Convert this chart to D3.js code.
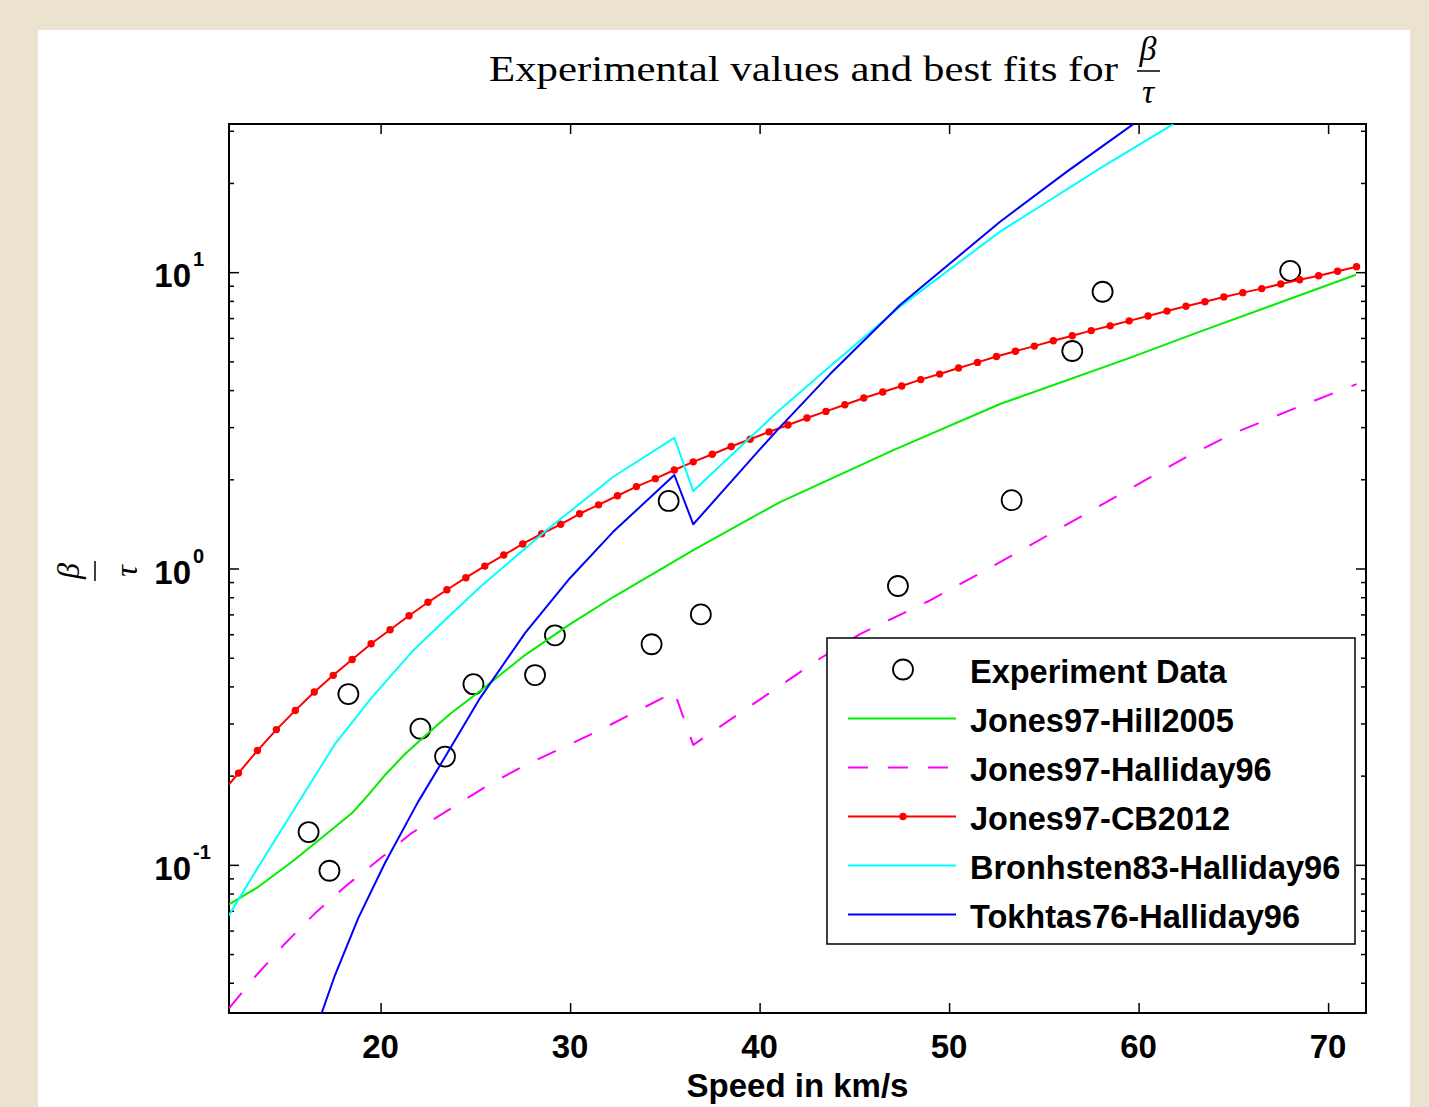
<!DOCTYPE html>
<html>
<head>
<meta charset="utf-8">
<script src="https://cdn.jsdelivr.net/npm/d3@7"></script>
<style>
html, body { margin: 0; padding: 0; background: #ebe3d0; }
svg { display: block; }
.axis .domain { display: none; }
.axis .tick line { stroke: #000; stroke-width: 1.5; }
.lab { font-family: "Liberation Sans", Arial, sans-serif; font-weight: bold; fill: #000; }
.math { font-family: "Liberation Serif", "DejaVu Serif", serif; fill: #000; }
</style>
</head>
<body>
<div id="chart"></div>
<script>
const W = 1429, H = 1107;
const plot = {left: 229, top: 124, right: 1366, bottom: 1013};

// experiment points
const expSpeed = [16.2, 17.3, 18.3, 22.1, 23.4, 24.9, 28.15, 29.2, 34.3, 35.2, 36.9, 47.3, 53.3, 56.5, 58.1, 68.0];
const expValue = [0.129, 0.0955, 0.377, 0.288, 0.232, 0.407, 0.437, 0.595, 0.555, 1.69, 0.70, 0.873, 1.70, 5.42, 8.59, 10.1];

// Jones97-Hill2005
const hillSpeed = [12, 13.55, 15.31, 17.07, 18.48, 19.34, 20.23, 21.29, 22.34, 23.66, 25.25, 27.62, 30.0,
  32.28, 36.5, 41.08, 47.06, 52.69, 59.46, 63.24, 71.47];
const hillValue = [0.0735, 0.0843, 0.1022, 0.126, 0.1492, 0.1719, 0.2009, 0.2365, 0.272, 0.3227, 0.3858, 0.5104, 0.6494,
  0.8012, 1.154, 1.676, 2.51, 3.59, 5.12, 6.30, 9.80];

// Jones97-Halliday96
const hallSpeed = [12, 13.37, 14.96, 16.54, 18.12, 20.06, 21.64, 23.57, 25.51, 27.45, 31.58, 35.5, 36.5, 43.19, 45.3, 48.99, 52.69, 62.52, 65.02, 68.04, 71.5];
const hallValue = [0.0328, 0.0419, 0.0543, 0.0686, 0.0844, 0.106, 0.128, 0.153, 0.183, 0.214, 0.285, 0.383, 0.254, 0.497, 0.601, 0.78, 1.05, 2.38, 2.86, 3.43, 4.19];

// Jones97-CB2012 (one marker per point)
const cbSpeed = [11.5, 12.5, 13.5, 14.5, 15.5, 16.5, 17.5, 18.5, 19.5, 20.5, 21.5, 22.5, 23.5, 24.5, 25.5,
  26.5, 27.5, 28.5, 29.5, 30.5, 31.5, 32.5, 33.5, 34.5, 35.5, 36.5, 37.5, 38.5, 39.5, 40.5, 41.5, 42.5,
  43.5, 44.5, 45.5, 46.5, 47.5, 48.5, 49.5, 50.5, 51.5, 52.5, 53.5, 54.5, 55.5, 56.5, 57.5, 58.5, 59.5,
  60.5, 61.5, 62.5, 63.5, 64.5, 65.5, 66.5, 67.5, 68.5, 69.5, 70.5, 71.5];
const cbValue = [0.171, 0.204, 0.243, 0.286, 0.332, 0.383, 0.436, 0.493, 0.557, 0.621, 0.693, 0.769, 0.848, 0.931, 1.019,
  1.11, 1.21, 1.31, 1.41, 1.53, 1.64, 1.76, 1.89, 2.01, 2.15, 2.29, 2.43, 2.58, 2.73, 2.89, 3.05, 3.22,
  3.39, 3.57, 3.76, 3.94, 4.13, 4.34, 4.53, 4.75, 4.96, 5.19, 5.41, 5.63, 5.87, 6.10, 6.35, 6.59, 6.85,
  7.11, 7.39, 7.67, 7.95, 8.25, 8.53, 8.80, 9.12, 9.43, 9.72, 10.07, 10.43];

// Bronhsten83-Halliday96
const bronSpeed = [12, 13.55, 15.31, 17.59, 19.55, 21.64, 23.4, 25.25, 28.77, 32.28, 35.5, 36.5, 41.08, 43.89, 47.41, 52.69, 57.96, 61.83];
const bronValue = [0.0676, 0.0985, 0.1492, 0.2556, 0.3683, 0.5224, 0.670, 0.866, 1.348, 2.04, 2.76, 1.825, 3.44, 4.92, 7.65, 13.7, 22.4, 31.6];

// Tokhtas76-Halliday96
const tokSpeed = [16.89, 17.59, 18.82, 20.23, 21.97, 23.4, 25.25, 27.62, 30.0, 32.26, 35.5, 36.5, 39.93, 41.08, 43.72, 47.41, 52.69, 56.2, 59.72];
const tokValue = [0.0316, 0.0424, 0.0661, 0.1014, 0.1628, 0.231, 0.3654, 0.6054, 0.929, 1.327, 2.068, 1.41, 2.49, 3.00, 4.53, 7.75, 14.8, 21.8, 31.6];

const xTicks = [20, 30, 40, 50, 60, 70];
const yDecades = [0.1, 1, 10];
const yDecadeExp = ["-1", "0", "1"];
const legendNames = ["Experiment Data", "Jones97-Hill2005", "Jones97-Halliday96", "Jones97-CB2012",
  "Bronhsten83-Halliday96", "Tokhtas76-Halliday96"];

var svg, x, y;

var init = function() {
    svg = d3.select("#chart").append("svg")
        .attr("width", W)
        .attr("height", H);

    svg.append("rect").attr("width", W).attr("height", H).attr("fill", "#ebe3d0");
    svg.append("rect").attr("x", 38).attr("y", 30)
        .attr("width", 1372).attr("height", H - 30).attr("fill", "#fff");

    x = d3.scaleLinear().domain([12, 72]).range([plot.left, plot.right]);
    y = d3.scaleLog().domain([Math.pow(10, -1.5), Math.pow(10, 1.5)]).range([plot.bottom, plot.top]);

    svg.append("clipPath").attr("id", "clip")
        .append("rect")
        .attr("x", plot.left).attr("y", plot.top)
        .attr("width", plot.right - plot.left).attr("height", plot.bottom - plot.top);

    drawAxes();
    drawSeries();
    drawLegend();
    drawTitles();
};

var drawAxes = function() {
    var minors = y.ticks().filter(v => yDecades.indexOf(v) < 0);
    var pw = plot.right - plot.left;

    // ticks point inward on all four sides
    svg.append("g").attr("class", "axis")
        .attr("transform", `translate(0,${plot.bottom})`)
        .call(d3.axisBottom(x).tickValues(xTicks).tickSize(-10).tickSizeOuter(0).tickFormat(""));
    svg.append("g").attr("class", "axis")
        .attr("transform", `translate(0,${plot.top})`)
        .call(d3.axisTop(x).tickValues(xTicks).tickSize(-10).tickSizeOuter(0).tickFormat(""));
    svg.append("g").attr("class", "axis")
        .attr("transform", `translate(${plot.left},0)`)
        .call(d3.axisLeft(y).tickValues(yDecades).tickSize(-10).tickSizeOuter(0).tickFormat(""));
    svg.append("g").attr("class", "axis")
        .attr("transform", `translate(${plot.left},0)`)
        .call(d3.axisLeft(y).tickValues(minors).tickSize(-5).tickSizeOuter(0).tickFormat(""));
    svg.append("g").attr("class", "axis")
        .attr("transform", `translate(${plot.right},0)`)
        .call(d3.axisRight(y).tickValues(yDecades).tickSize(-10).tickSizeOuter(0).tickFormat(""));
    svg.append("g").attr("class", "axis")
        .attr("transform", `translate(${plot.right},0)`)
        .call(d3.axisRight(y).tickValues(minors).tickSize(-5).tickSizeOuter(0).tickFormat(""));

    svg.append("rect")
        .attr("x", plot.left).attr("y", plot.top)
        .attr("width", pw).attr("height", plot.bottom - plot.top)
        .attr("fill", "none").attr("stroke", "#000").attr("stroke-width", 2);

    svg.selectAll(".xlab").data(xTicks)
        .enter().append("text")
        .attr("class", "lab xlab")
        .attr("x", d => x(d)).attr("y", plot.bottom + 45)
        .attr("text-anchor", "middle")
        .attr("font-size", 33)
        .text(d => d);

    var yl = svg.selectAll(".ylab").data(yDecades)
        .enter().append("g").attr("class", "ylab");
    yl.append("text")
        .attr("class", "lab")
        .attr("x", 191).attr("y", d => y(d) + 15)
        .attr("text-anchor", "end")
        .attr("font-size", 33)
        .text("10");
    yl.append("text")
        .attr("class", "lab")
        .attr("x", 193).attr("y", d => y(d) - 6)
        .attr("font-size", 20)
        .text((d, i) => yDecadeExp[i]);
};

var drawSeries = function() {
    var line = d3.line()
        .x(d => x(d[0]))
        .y(d => y(d[1]));
    var g = svg.append("g").attr("clip-path", "url(#clip)");

    g.selectAll(".exp").data(d3.zip(expSpeed, expValue))
        .enter().append("circle")
        .attr("cx", d => x(d[0])).attr("cy", d => y(d[1]))
        .attr("r", 10)
        .attr("fill", "none").attr("stroke", "#000").attr("stroke-width", 1.8);

    var curves = [
        [hillSpeed, hillValue, "#00ee00", null],
        [hallSpeed, hallValue, "#ff00ff", "20,20"],
        [cbSpeed, cbValue, "#ff0000", null],
        [bronSpeed, bronValue, "#00ffff", null],
        [tokSpeed, tokValue, "#0000ff", null]
    ];
    curves.forEach(function(c) {
        g.append("path")
            .attr("d", line(d3.zip(c[0], c[1])))
            .attr("fill", "none")
            .attr("stroke", c[2])
            .attr("stroke-width", 2)
            .attr("stroke-linejoin", "round")
            .attr("stroke-dasharray", c[3]);
        if (c[0] === cbSpeed) {
            g.selectAll(".cbdot").data(d3.zip(cbSpeed, cbValue))
                .enter().append("circle")
                .attr("cx", d => x(d[0])).attr("cy", d => y(d[1]))
                .attr("r", 3.7).attr("fill", "#ff0000");
        }
    });
};

var drawLegend = function() {
    var lx = 827, ly = 638, lw = 528, lh = 306;
    var row = i => 669.5 + i * 49;
    var lg = svg.append("g");
    lg.append("rect")
        .attr("x", lx).attr("y", ly).attr("width", lw).attr("height", lh)
        .attr("fill", "#fff").attr("stroke", "#000").attr("stroke-width", 1.5);

    var styles = [
        ["#000", null], ["#00ee00", null], ["#ff00ff", "20,20"], ["#ff0000", null], ["#00ffff", null], ["#0000ff", null]
    ];
    legendNames.forEach(function(name, i) {
        if (i === 0) {
            lg.append("circle").attr("cx", 903).attr("cy", row(i)).attr("r", 10)
                .attr("fill", "none").attr("stroke", "#000").attr("stroke-width", 1.8);
        } else {
            lg.append("line")
                .attr("x1", 848).attr("x2", 956)
                .attr("y1", row(i)).attr("y2", row(i))
                .attr("stroke", styles[i][0]).attr("stroke-width", 2)
                .attr("stroke-dasharray", styles[i][1]);
            if (i === 3) {
                lg.append("circle").attr("cx", 903).attr("cy", row(i)).attr("r", 3.7).attr("fill", "#ff0000");
            }
        }
        lg.append("text")
            .attr("class", "lab")
            .attr("x", 970).attr("y", row(i) + 13)
            .attr("font-size", 32.5)
            .text(name);
    });
};

var drawTitles = function() {
    svg.append("text")
        .attr("class", "math")
        .attr("x", 489).attr("y", 81)
        .attr("font-size", 35)
        .attr("textLength", 629).attr("lengthAdjust", "spacingAndGlyphs")
        .text("Experimental values and best fits for");
    svg.append("text").attr("class", "math")
        .attr("x", 1148).attr("y", 60).attr("text-anchor", "middle")
        .attr("font-size", 34).attr("font-style", "italic").text("β");
    svg.append("line").attr("x1", 1137).attr("x2", 1160).attr("y1", 71).attr("y2", 71)
        .attr("stroke", "#000").attr("stroke-width", 1.5);
    svg.append("text").attr("class", "math")
        .attr("x", 1148).attr("y", 103).attr("text-anchor", "middle")
        .attr("font-size", 34).attr("font-style", "italic").text("τ");

    svg.append("text")
        .attr("class", "lab")
        .attr("x", (plot.left + plot.right) / 2).attr("y", 1097)
        .attr("text-anchor", "middle")
        .attr("font-size", 33)
        .text("Speed in km/s");

    var yl = svg.append("g").attr("transform", "translate(95,571) rotate(-90)");
    yl.append("text").attr("class", "math")
        .attr("x", 0).attr("y", -16).attr("text-anchor", "middle")
        .attr("font-size", 32).attr("font-style", "italic").text("β");
    yl.append("line").attr("x1", -10).attr("x2", 10).attr("y1", 0).attr("y2", 0)
        .attr("stroke", "#000").attr("stroke-width", 1.5);
    yl.append("text").attr("class", "math")
        .attr("x", 0).attr("y", 42).attr("text-anchor", "middle")
        .attr("font-size", 32).attr("font-style", "italic").text("τ");
};

init();
</script>
</body>
</html>
